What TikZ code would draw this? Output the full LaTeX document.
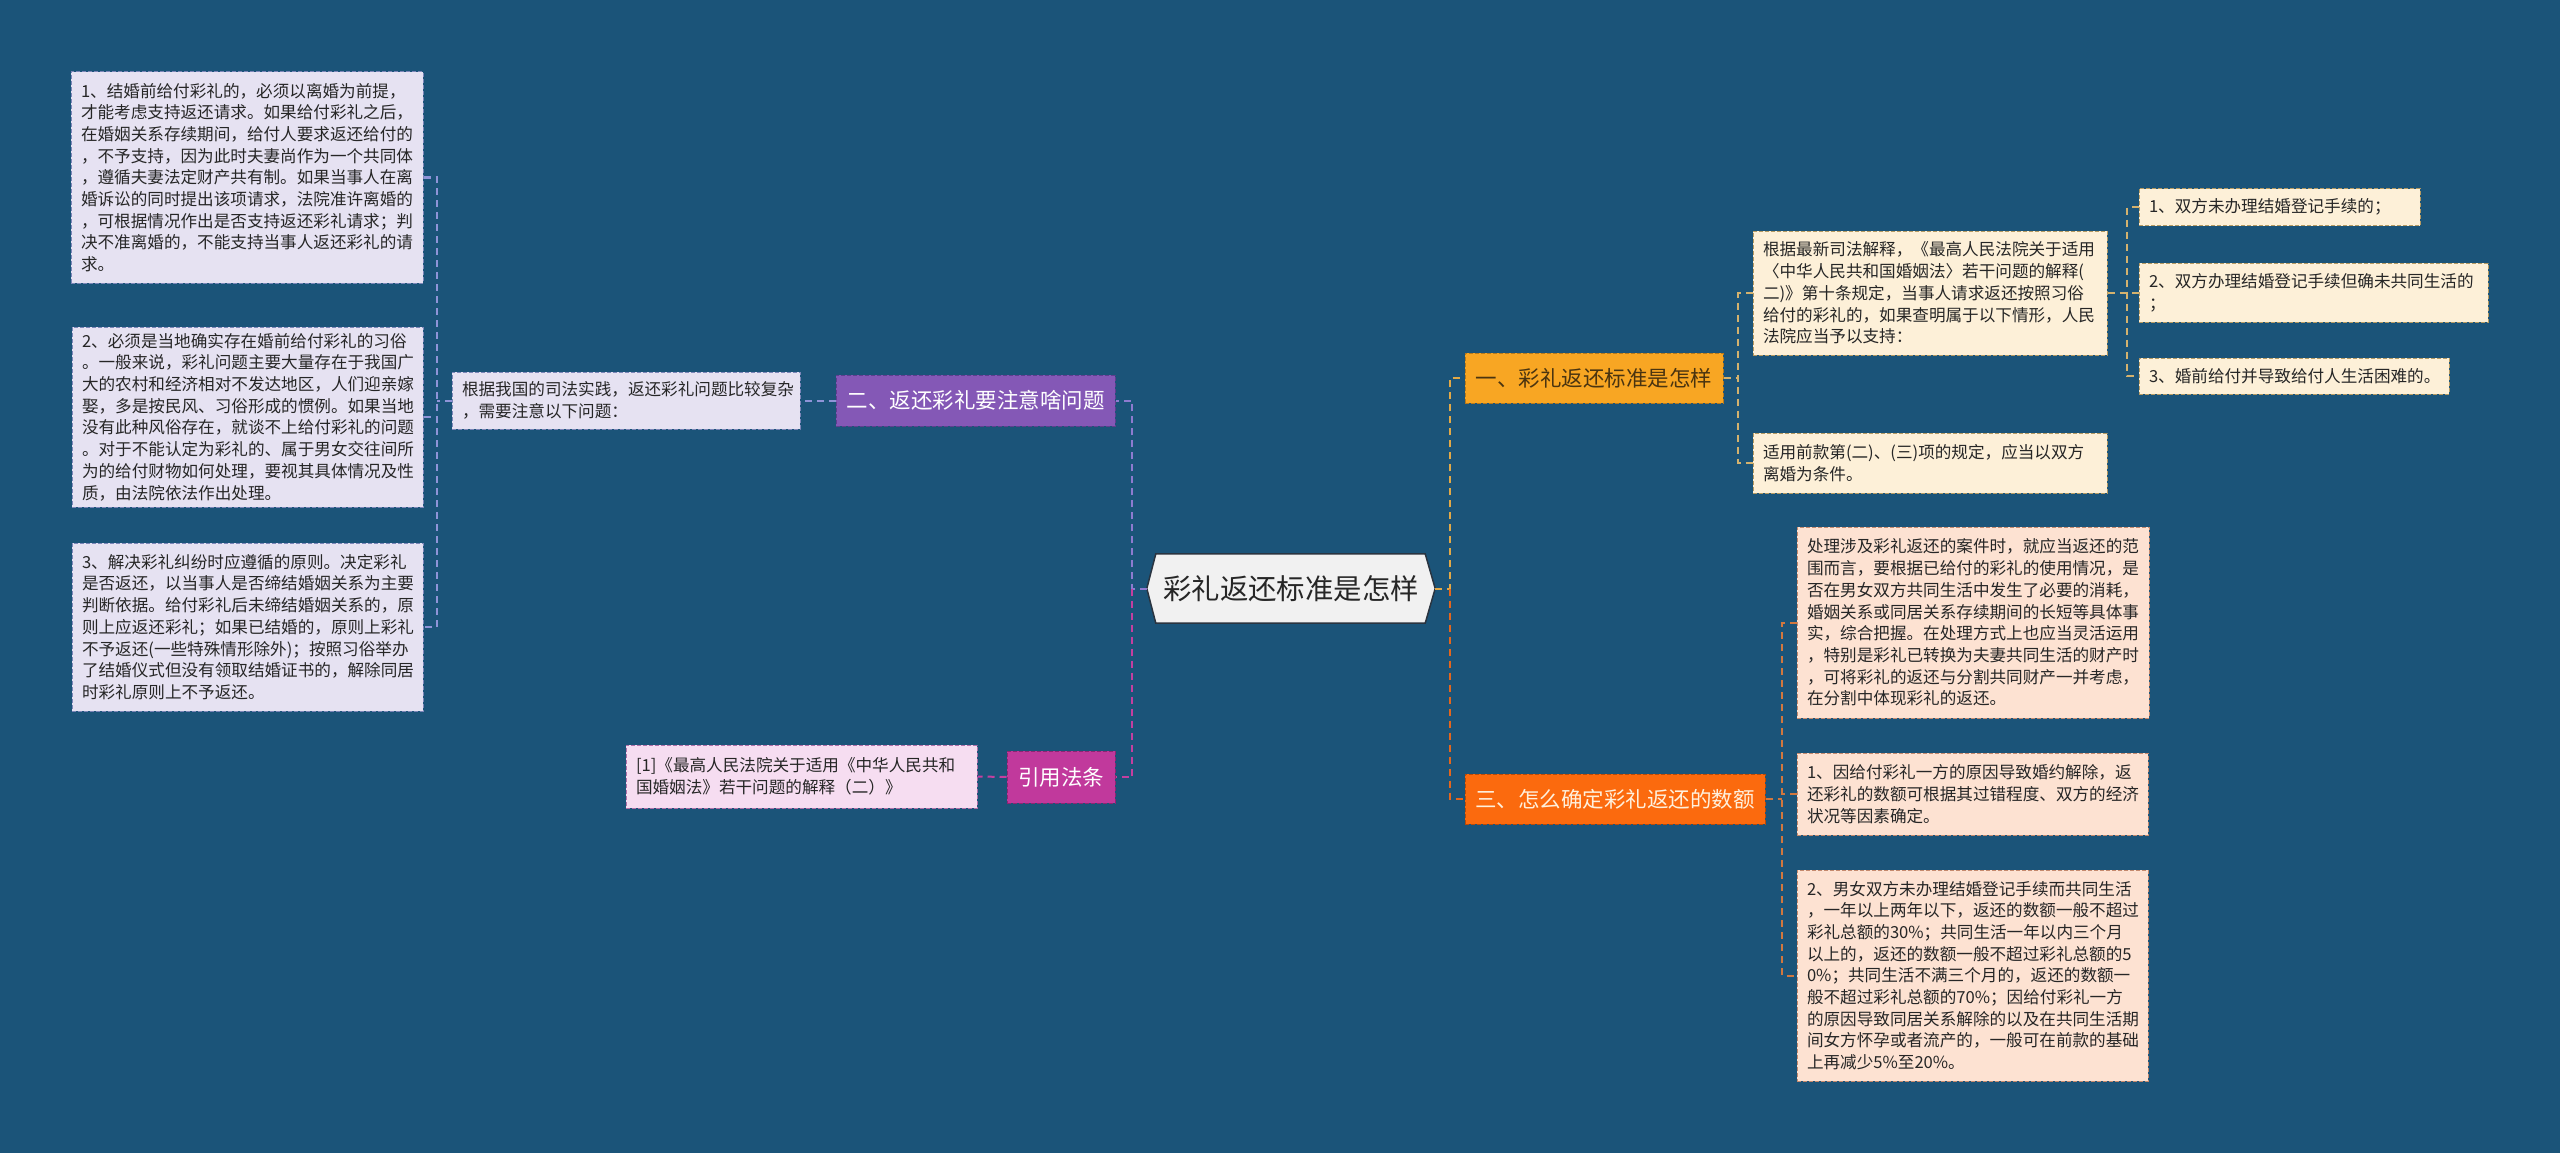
\documentclass[tikz,border=0pt]{standalone}
\usepackage{fontspec}
\newfontfamily\cjk{Noto Sans CJK SC}
\usetikzlibrary{calc}
\pgfdeclarelayer{background}
\pgfsetlayers{background,main}
\definecolor{bg}{HTML}{1B5479}
\definecolor{lavF}{HTML}{E6E2F2}\definecolor{lavD}{HTML}{7C86B8}
\definecolor{pinkF}{HTML}{F6DDF1}\definecolor{pinkD}{HTML}{B070A8}
\definecolor{creamF}{HTML}{FDF0D8}\definecolor{creamD}{HTML}{B59A62}
\definecolor{peachF}{HTML}{FDE2D2}\definecolor{peachD}{HTML}{C58A6E}
\definecolor{purN}{HTML}{8458B6}\definecolor{purB}{HTML}{5E3E8E}
\definecolor{magN}{HTML}{C1399C}\definecolor{magB}{HTML}{8E2472}
\definecolor{yelN}{HTML}{F8A623}\definecolor{yelB}{HTML}{B8791A}
\definecolor{oraN}{HTML}{FB6A0E}\definecolor{oraB}{HTML}{B84A08}
\definecolor{lpur}{HTML}{8E7BD0}\definecolor{lpurb}{HTML}{8F94D8}
\definecolor{lmag}{HTML}{C43FA0}\definecolor{lyel}{HTML}{E3A946}
\definecolor{ltan}{HTML}{D4B26E}\definecolor{lora}{HTML}{E5661C}
\definecolor{lorab}{HTML}{D2773E}
\definecolor{hexF}{HTML}{F1F1F1}\definecolor{hexD}{HTML}{2A3440}
\begin{document}
\begin{tikzpicture}[x=1pt,y=-1pt,
  leaf/.style={rectangle, font=\cjk\fontsize{16.6}{21.7}\selectfont, align=left,
    inner xsep=10pt, inner ysep=4pt, line width=1pt, dash pattern=on 4pt off 2pt, text=black!85},
  lav/.style={leaf, fill=lavF, draw=lavD},
  pinkbox/.style={leaf, fill=pinkF, draw=pinkD},
  cream/.style={leaf, fill=creamF, draw=creamD},
  peach/.style={leaf, fill=peachF, draw=peachD},
  branch/.style={rectangle, font=\cjk\fontsize{21.5}{26}\selectfont, inner sep=0pt,
    line width=1pt, dash pattern=on 4pt off 2pt, align=center},
  conn/.style={line width=2pt, dash pattern=on 7pt off 5pt},
]
\begin{pgfonlayer}{background}
\fill[bg] (0,0) rectangle (2560,1153);
\end{pgfonlayer}
\useasboundingbox (0,0) rectangle (2560,1153);

% central node
\node[inner sep=0pt, minimum width=288pt, minimum height=69pt, font=\cjk\fontsize{28.4}{34}\selectfont, text=black!85] (main) at (1291,588.5) {彩礼返还标准是怎样};
\begin{pgfonlayer}{background}
\draw[fill=hexF, draw=hexD, line width=1.5pt] (main.west) -- ($(main.north west)+(9,0)$) -- ($(main.north east)+(-10,0)$) -- (main.east) -- ($(main.south east)+(-10,0)$) -- ($(main.south west)+(9,0)$) -- cycle;
\end{pgfonlayer}

% branch nodes
\node[branch, fill=purN, draw=purB, text=white, minimum width=279pt, minimum height=51pt] (b2) at (975.5,400.5) {二、返还彩礼要注意啥问题};
\node[branch, fill=magN, draw=magB, text=white, minimum width=108pt, minimum height=52pt] (yf) at (1061,777) {引用法条};
\node[branch, fill=yelN, draw=yelB, text={rgb,255:red,74;green,52;blue,16}, minimum width=258pt, minimum height=50pt] (b1) at (1594,378) {一、彩礼返还标准是怎样};
\node[branch, fill=oraN, draw=oraB, text={rgb,255:red,255;green,240;blue,220}, minimum width=300pt, minimum height=50pt] (b3) at (1615,799) {三、怎么确定彩礼返还的数额};

% left leaves
\node[lav, text width=332pt, minimum height=211pt] (l1) at (247,177.5) {1、结婚前给付彩礼的，必须以离婚为前提，\\才能考虑支持返还请求。如果给付彩礼之后，\\在婚姻关系存续期间，给付人要求返还给付的\\，不予支持，因为此时夫妻尚作为一个共同体\\，遵循夫妻法定财产共有制。如果当事人在离\\婚诉讼的同时提出该项请求，法院准许离婚的\\，可根据情况作出是否支持返还彩礼请求；判\\决不准离婚的，不能支持当事人返还彩礼的请\\求。};
\node[lav, text width=331pt, minimum height=180pt] (l2) at (247.5,417) {2、必须是当地确实存在婚前给付彩礼的习俗\\。一般来说，彩礼问题主要大量存在于我国广\\大的农村和经济相对不发达地区，人们迎亲嫁\\娶，多是按民风、习俗形成的惯例。如果当地\\没有此种风俗存在，就谈不上给付彩礼的问题\\。对于不能认定为彩礼的、属于男女交往间所\\为的给付财物如何处理，要视其具体情况及性\\质，由法院依法作出处理。};
\node[lav, text width=331pt, minimum height=168pt] (l3) at (247.5,627) {3、解决彩礼纠纷时应遵循的原则。决定彩礼\\是否返还，以当事人是否缔结婚姻关系为主要\\判断依据。给付彩礼后未缔结婚姻关系的，原\\则上应返还彩礼；如果已结婚的，原则上彩礼\\不予返还(一些特殊情形除外)；按照习俗举办\\了结婚仪式但没有领取结婚证书的，解除同居\\时彩礼原则上不予返还。};
\node[lav, text width=328pt, minimum height=57pt] (g) at (626,400.5) {根据我国的司法实践，返还彩礼问题比较复杂\\，需要注意以下问题：};
\node[pinkbox, text width=331pt, minimum height=63pt] (r1) at (801.5,776.5) {[1]《最高人民法院关于适用《中华人民共和\\国婚姻法》若干问题的解释（二）》};

% right leaves (branch 1)
\node[cream, text width=334pt, minimum height=124pt] (a1) at (1930,293) {根据最新司法解释，《最高人民法院关于适用\\〈中华人民共和国婚姻法〉若干问题的解释(\\二)》第十条规定，当事人请求返还按照习俗\\给付的彩礼的，如果查明属于以下情形，人民\\法院应当予以支持：};
\node[cream, text width=334pt, minimum height=60pt] (a2) at (1930,463) {适用前款第(二)、(三)项的规定，应当以双方\\离婚为条件。};
\node[cream, text width=261pt, minimum height=37pt] (c1) at (2279.5,207) {1、双方未办理结婚登记手续的；};
\node[cream, text width=329pt, minimum height=59pt] (c2) at (2313.5,292.5) {2、双方办理结婚登记手续但确未共同生活的\\；};
\node[cream, text width=290pt, minimum height=36pt] (c3) at (2294,376) {3、婚前给付并导致给付人生活困难的。};

% right leaves (branch 3)
\node[peach, text width=332pt, minimum height=191pt] (d1) at (1973,622.5) {处理涉及彩礼返还的案件时，就应当返还的范\\围而言，要根据已给付的彩礼的使用情况，是\\否在男女双方共同生活中发生了必要的消耗，\\婚姻关系或同居关系存续期间的长短等具体事\\实，综合把握。在处理方式上也应当灵活运用\\，特别是彩礼已转换为夫妻共同生活的财产时\\，可将彩礼的返还与分割共同财产一并考虑，\\在分割中体现彩礼的返还。};
\node[peach, text width=331pt, minimum height=82pt] (d2) at (1972.5,794) {1、因给付彩礼一方的原因导致婚约解除，返\\还彩礼的数额可根据其过错程度、双方的经济\\状况等因素确定。};
\node[peach, text width=331pt, minimum height=211pt] (d3) at (1972.5,975.5) {2、男女双方未办理结婚登记手续而共同生活\\，一年以上两年以下，返还的数额一般不超过\\彩礼总额的30\%；共同生活一年以内三个月\\以上的，返还的数额一般不超过彩礼总额的5\\0\%；共同生活不满三个月的，返还的数额一\\般不超过彩礼总额的70\%；因给付彩礼一方\\的原因导致同居关系解除的以及在共同生活期\\间女方怀孕或者流产的，一般可在前款的基础\\上再减少5\%至20\%。};

% coordinates for elbows
\coordinate (cl) at (1132,588.5);
\coordinate (cr) at (1450,588.5);
\coordinate (gl) at (437,400.5);
\coordinate (ax) at (1738,378);
\coordinate (cx) at (2127,293);
\coordinate (dx) at (1782,799);

% connectors
\draw[conn, lpur] (main.west) -- (cl) |- (b2.east);
\draw[conn, lmag] (cl) |- (yf.east);
\draw[conn, lyel] (main.east) -- (cr) |- (b1.west);
\draw[conn, lora] (cr) |- (b3.west);

\draw[conn, lpurb] (b2.west) -- (g.east);
\draw[conn, lpurb] (g.west) -- (gl);
\draw[conn, lpurb] (l1.east) -- (l1.east -| gl) -- (l3.east -| gl) -- (l3.east);
\draw[conn, lpurb] (l2.east) -- (l2.east -| gl);

\draw[conn, lmag] (yf.west) -- (r1.east);

\draw[conn, ltan] (b1.east) -- (ax);
\draw[conn, ltan] (a1.west) -- (a1.west -| ax) -- (a2.west -| ax) -- (a2.west);
\draw[conn, ltan] (a1.east) -- (cx);
\draw[conn, ltan] (c1.west) -- (c1.west -| cx) -- (c3.west -| cx) -- (c3.west);
\draw[conn, ltan] (c2.west) -- (c2.west -| cx);

\draw[conn, lorab] (b3.east) -- (dx);
\draw[conn, lorab] (d1.west) -- (d1.west -| dx) -- (d3.west -| dx) -- (d3.west);
\draw[conn, lorab] (d2.west) -- (d2.west -| dx);
\end{tikzpicture}
\end{document}
